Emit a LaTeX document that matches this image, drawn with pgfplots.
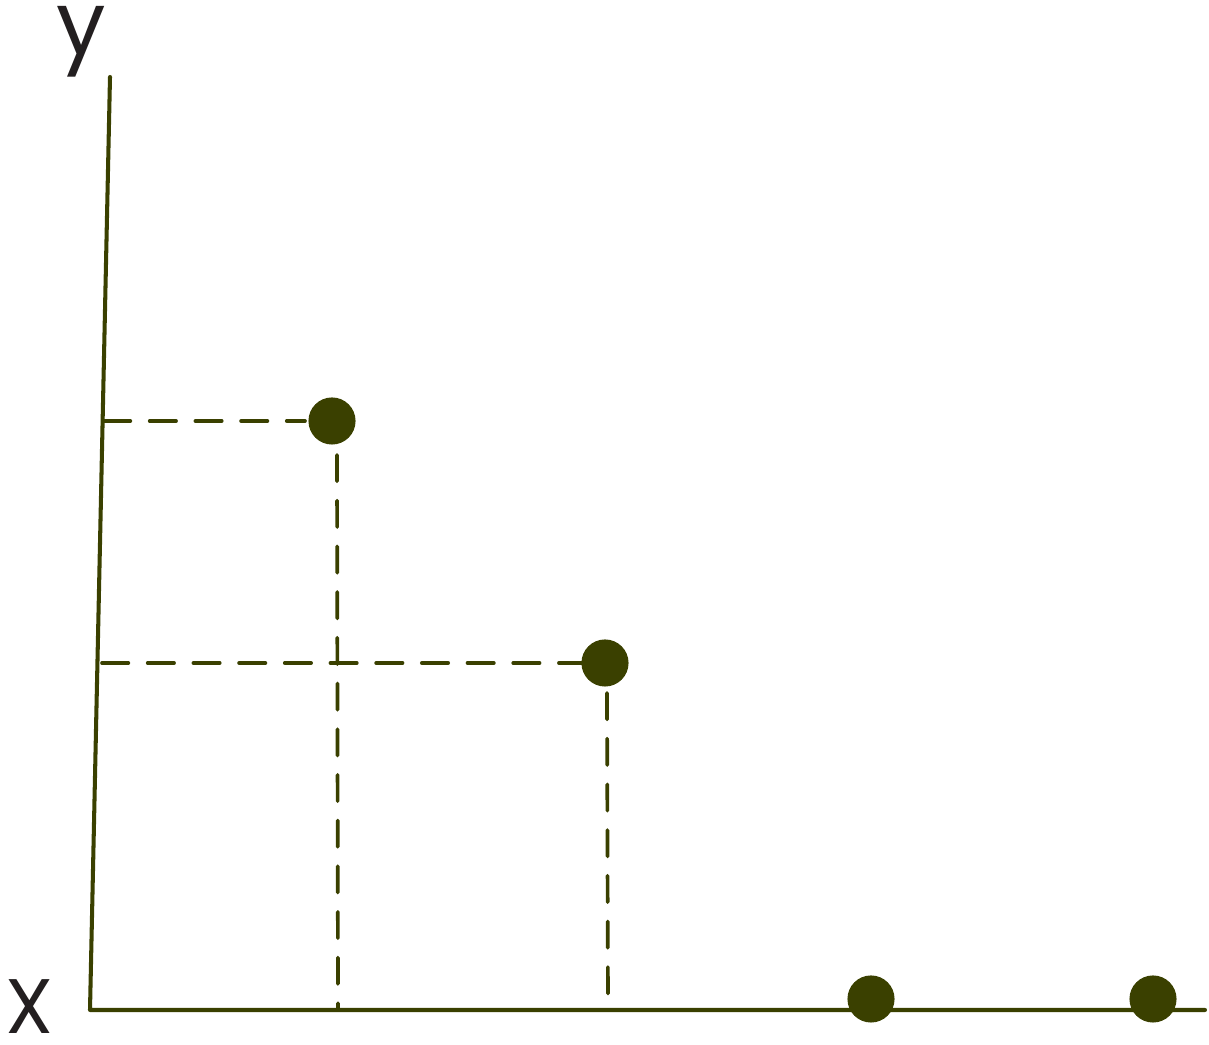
\documentclass[border=0pt]{standalone}
\usepackage{pgfplots}
\pgfplotsset{compat=1.18}
\usepackage{fontspec}
\setmainfont{Poppins}
\definecolor{olive}{HTML}{3A4000}
\definecolor{ink}{HTML}{231F20}
\begin{document}
\begin{tikzpicture}
\begin{axis}[
  scale only axis, width=12.09cm, height=10.45cm,
  xmin=0, xmax=1209, ymin=0, ymax=1045,
  axis lines=none, clip=false,
]
\addplot[draw=none, forget plot] coordinates {(0,0) (1209,1045)};
% axes
\addplot[olive, line width=1.15pt, line cap=round, line join=round] coordinates {(110,968) (90,35) (1205,35)};
% dashed guides
\addplot[olive, line width=1.05pt, line cap=round, dash pattern=on 7.5pt off 5.5pt] coordinates {(104,624) (305,624)};
\addplot[olive, line width=1.05pt, line cap=round, dash pattern=on 7.5pt off 5.5pt] coordinates {(337,590) (338,37)};
\addplot[olive, line width=1.05pt, line cap=round, dash pattern=on 7.5pt off 5.5pt] coordinates {(102,382) (582,382)};
\addplot[olive, line width=1.05pt, line cap=round, dash pattern=on 7.5pt off 5.5pt] coordinates {(607,352) (608,37)};
% points
\addplot[only marks, mark=*, mark size=6.5pt, mark options={fill=olive, draw=olive}] coordinates {(332,624) (605,382) (871,46) (1153,46)};
% labels
\node[overlay, inner sep=0pt, text=ink, font=\fontsize{25}{29}\selectfont] at (axis cs:81,1003) {y};
\node[overlay, inner sep=0pt, text=ink, font=\fontsize{22}{26}\selectfont] at (axis cs:30,38) {X};
\end{axis}
\end{tikzpicture}
\end{document}
